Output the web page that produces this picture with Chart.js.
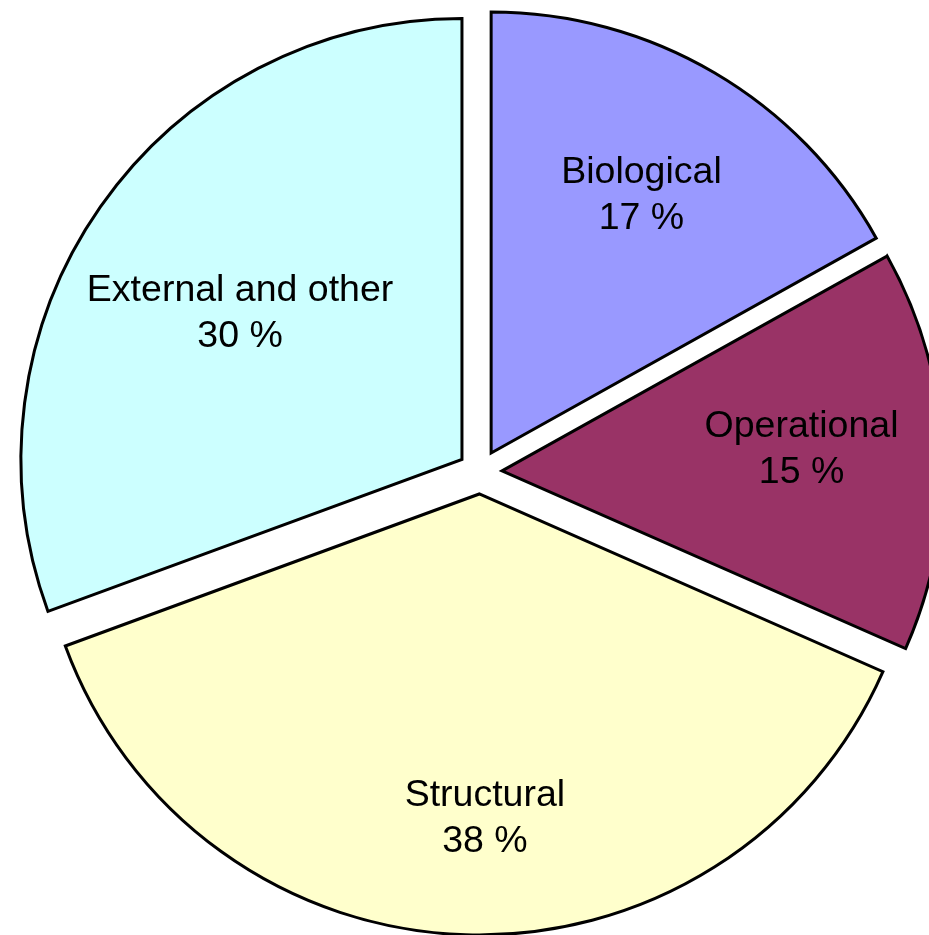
<!DOCTYPE html>
<html>
<head>
<meta charset="utf-8">
<script src="https://cdn.jsdelivr.net/npm/chart.js@4/dist/chart.umd.min.js"></script>
<style>
  html, body { margin: 0; padding: 0; background: #ffffff; }
  #wrap { width: 929px; height: 935px; overflow: hidden; }
</style>
</head>
<body>
<div id="wrap"><canvas id="myChart" width="929" height="935"></canvas></div>
<script>
// slice names, label text and slice sizes
var categories = ['Biological', 'Operational', 'Structural', 'External and other'];
var shareLabels = ['17 %', '15 %', '38 %', '30 %'];
var sliceValues = [16.9, 14.7, 37.8, 30.6];
var sliceColors = ['#9999FF', '#993366', '#FFFFCC', '#CCFFFF'];

var EXPLODE = 22; // pixels each slice is pulled out

// pull every slice out along its middle angle (keeps the radius unchanged)
var explodeSlices = {
  id: 'explodeSlices',
  afterDatasetUpdate: function (chart, args) {
    var arcs = chart.getDatasetMeta(args.index).data;
    for (var i = 0; i < arcs.length; i++) {
      var a = arcs[i];
      var mid = (a.startAngle + a.endAngle) / 2;
      a.x += Math.cos(mid) * EXPLODE;
      a.y += Math.sin(mid) * EXPLODE;
    }
  }
};

// two-line labels inside each slice
var sliceLabels = {
  id: 'sliceLabels',
  afterDatasetsDraw: function (chart, args, opts) {
    var ctx = chart.ctx;
    var arcs = chart.getDatasetMeta(0).data;
    ctx.save();
    ctx.fillStyle = '#000000';
    ctx.font = opts.fontSize + 'px "Liberation Sans", Arial, sans-serif';
    ctx.textAlign = 'center';
    ctx.textBaseline = 'alphabetic';
    for (var i = 0; i < arcs.length; i++) {
      var a = arcs[i];
      var mid = (a.startAngle + a.endAngle) / 2;
      var dist = a.outerRadius * opts.radial;
      var nudge = opts.nudge[i] || [0, 0];
      var cx = a.x + Math.cos(mid) * dist + nudge[0];
      var cy = a.y + Math.sin(mid) * dist + nudge[1];
      ctx.fillText(categories[i], cx, cy - 10);
      ctx.fillText(shareLabels[i], cx, cy + 36);
    }
    ctx.restore();
  }
};

var data = {
  labels: categories,
  datasets: [{
    data: sliceValues,
    backgroundColor: sliceColors,
    borderColor: '#000000',
    borderWidth: 3,
    borderJoinStyle: 'miter',
    offset: 0,
    hoverOffset: 0,
    radius: 441
  }]
};

var config = {
  type: 'pie',
  data: data,
  options: {
    responsive: false,
    animation: false,
    events: [],
    layout: { padding: { left: 31, right: 0, top: 9, bottom: 0 } },
    plugins: {
      legend: { display: false },
      tooltip: { enabled: false },
      sliceLabels: {
        fontSize: 37.5,
        radial: 0.68,
        nudge: [[-1.5, -1.3], [0, -10], [15, 22], [24, 23]]
      }
    }
  },
  plugins: [explodeSlices, sliceLabels]
};

var myChart = new Chart(document.getElementById('myChart'), config);
</script>
</body>
</html>
